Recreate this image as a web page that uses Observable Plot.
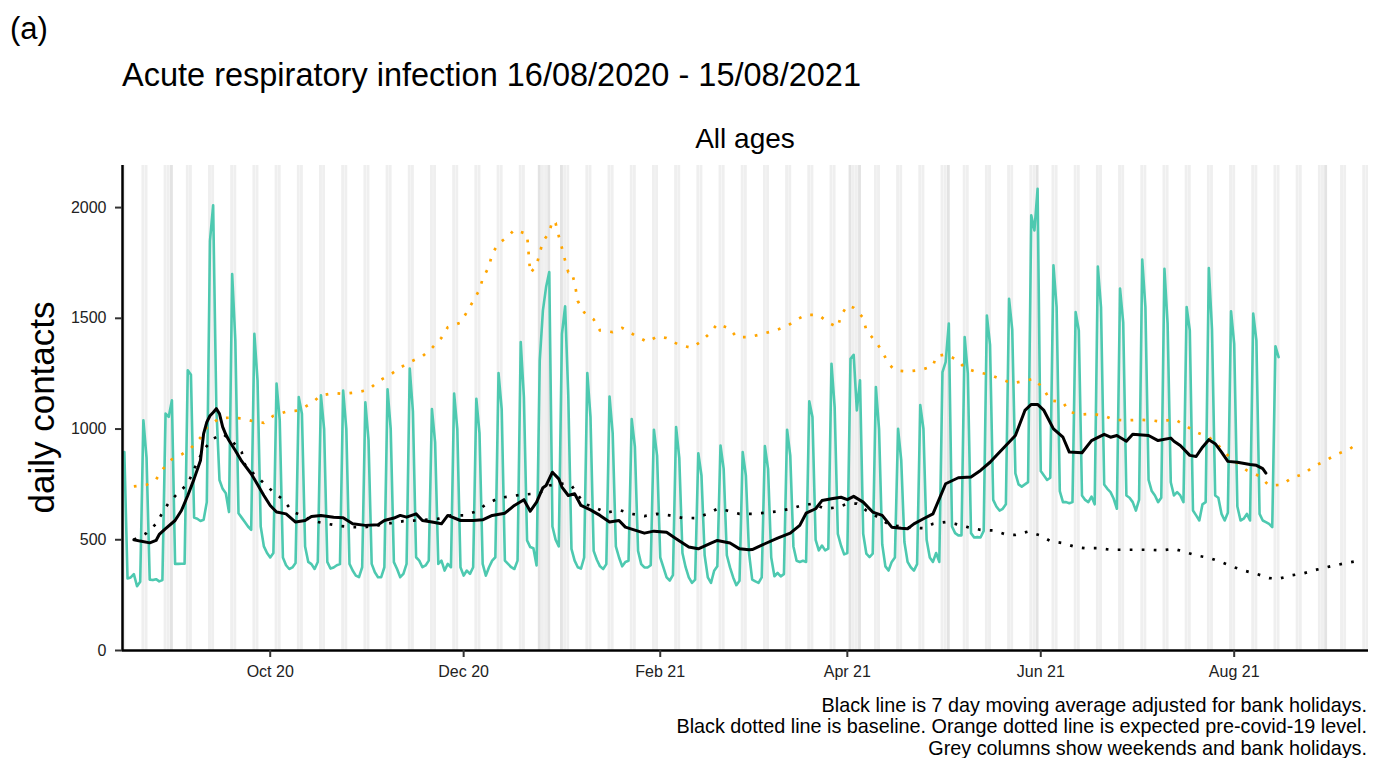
<!DOCTYPE html>
<html><head><meta charset="utf-8">
<script src="https://cdn.jsdelivr.net/npm/d3@7"></script>
<script src="https://cdn.jsdelivr.net/npm/@observablehq/plot@0.6"></script>
<style>
html,body{margin:0;padding:0;background:#fff;}
#wrap{position:relative;width:1379px;height:758px;overflow:hidden;font-family:"Liberation Sans",Arial,Helvetica,sans-serif;color:#000;}
.txt{position:absolute;white-space:nowrap;}
#chart{position:absolute;left:0;top:0;}
</style></head>
<body>
<div id="wrap">
  <div id="chart"></div>
  <div class="txt" style="left:10px;top:13px;font-size:31px;line-height:31px;">(a)</div>
  <div class="txt" style="left:122px;top:59px;font-size:32.5px;line-height:32.5px;">Acute respiratory infection 16/08/2020 - 15/08/2021</div>
  <div class="txt" style="left:545px;width:400px;text-align:center;top:125px;font-size:28px;line-height:28px;">All ages</div>
  <div class="txt" style="left:-159px;top:390px;width:400px;height:35px;text-align:center;font-size:35px;line-height:35px;transform:rotate(-90deg);">daily contacts</div>
  <div class="txt" style="left:0;width:1367px;text-align:right;top:694.6px;font-size:19.8px;line-height:21.6px;">Black line is 7 day moving average adjusted for bank holidays.<br>Black dotted line is baseline. Orange dotted line is expected pre-covid-19 level.<br>Grey columns show weekends and bank holidays.</div>
</div>
<script>
// ---- data ----
const startDate = "2020-08-16";
// daily contacts, one value per day from Sun 16 Aug 2020 (rows = weeks Mon..Sun)
const dailyContacts = [
  896,
  325, 330, 345, 290, 310, 1040, 870,
  320, 318, 322, 312, 318, 1070, 1055,
  1130, 391, 391, 392, 392, 1265, 1245,
  600, 595, 585, 590, 670, 1850, 2010,
  1100, 770, 730, 710, 625, 1700, 1400,
  620, 600, 580, 560, 545, 1430, 1220,
  560, 470, 440, 420, 440, 1205, 1040,
  420, 385, 368, 375, 395, 1144, 1069,
  470, 400, 390, 368, 400, 1152, 1000,
  400, 370, 375, 385, 390, 1174, 1000,
  391, 361, 338, 331, 376, 1121, 950,
  391, 353, 331, 331, 376, 1179, 1000,
  399, 368, 331, 346, 391, 1273, 1080,
  421, 406, 376, 384, 406, 1090, 940,
  391, 406, 361, 391, 376, 1160, 1000,
  376, 338, 361, 346, 376, 1137, 980,
  391, 338, 376, 406, 421, 1253, 1090,
  406, 391, 376, 368, 406, 1393, 1144,
  497, 467, 462, 384, 1310, 1536, 1641,
  1709, 560, 500, 470, 1430, 1554, 1150,
  459, 406, 376, 370, 420, 1253, 1054,
  450, 410, 380, 368, 390, 1147, 980,
  470, 420, 380, 400, 405, 1045, 920,
  450, 390, 375, 375, 385, 997, 880,
  420, 375, 330, 316, 340, 1009, 870,
  440, 376, 330, 305, 320, 891, 790,
  430, 330, 305, 360, 380, 926, 820,
  430, 375, 330, 295, 315, 896, 790,
  440, 320, 312, 305, 330, 923, 820,
  420, 335, 350, 335, 345, 997, 880,
  470, 405, 400, 405, 400, 1125, 1054,
  500, 452, 474, 452, 460, 1295, 1099,
  527, 474, 434, 440, 1317, 1335, 1084,
  1220, 527, 437, 422, 437, 1190, 1000,
  480, 380, 361, 400, 420, 1001, 858,
  490, 400, 376, 361, 390, 1108, 1000,
  500, 420, 400, 440, 400, 1257, 1302,
  1476, 560, 530, 520, 520, 1415, 1250,
  530, 510, 512, 510, 540, 1513, 1380,
  680, 650, 632, 640, 660, 1588, 1450,
  800, 750, 740, 750, 760, 1965, 1897,
  2085, 810, 790, 770, 780, 1739, 1550,
  720, 670, 670, 665, 670, 1528, 1445,
  700, 680, 670, 695, 660, 1734, 1550,
  750, 730, 715, 685, 640, 1634, 1480,
  700, 690, 670, 632, 680, 1765, 1550,
  770, 720, 700, 670, 690, 1724, 1475,
  760, 700, 715, 700, 670, 1551, 1445,
  632, 610, 587, 660, 670, 1727, 1450,
  700, 690, 617, 587, 622, 1532, 1385,
  650, 587, 595, 617, 587, 1521, 1400,
  617, 587, 580, 572, 557, 1374, 1325
];
const movingAverage = [
  ["2020-08-19",500],["2020-08-21",494],["2020-08-24",486],["2020-08-26",497],["2020-08-27",524],["2020-08-29",550],
  ["2020-09-01",587],["2020-09-03",632],["2020-09-05",700],["2020-09-07",775],["2020-09-09",858],["2020-09-10",979],
  ["2020-09-11",1031],["2020-09-12",1060],["2020-09-13",1075],["2020-09-14",1092],["2020-09-15",1069],["2020-09-16",1010],
  ["2020-09-17",975],["2020-09-18",948],["2020-09-20",903],["2020-09-22",855],["2020-09-25",798],["2020-09-27",750],
  ["2020-09-29",700],["2020-10-01",655],["2020-10-03",625],["2020-10-06",617],["2020-10-09",580],["2020-10-12",587],
  ["2020-10-14",605],["2020-10-17",610],["2020-10-21",602],["2020-10-24",599],["2020-10-27",572],["2020-10-31",565],
  ["2020-11-04",568],["2020-11-06",587],["2020-11-09",598],["2020-11-11",610],["2020-11-13",602],["2020-11-16",617],
  ["2020-11-18",587],["2020-11-21",580],["2020-11-24",572],["2020-11-26",610],["2020-11-30",587],["2020-12-04",587],
  ["2020-12-07",590],["2020-12-10",610],["2020-12-14",620],["2020-12-17",655],["2020-12-20",681],["2020-12-22",629],
  ["2020-12-24",670],["2020-12-26",735],["2020-12-27",745],["2020-12-29",805],["2020-12-31",775],["2021-01-01",738],
  ["2021-01-03",700],["2021-01-05",708],["2021-01-07",655],["2021-01-10",635],["2021-01-13",610],["2021-01-16",580],
  ["2021-01-19",587],["2021-01-21",557],["2021-01-27",530],["2021-01-30",539],["2021-02-03",534],["2021-02-06",505],
  ["2021-02-10",467],["2021-02-13",459],["2021-02-17",485],["2021-02-19",497],["2021-02-23",485],["2021-02-26",459],
  ["2021-03-01",455],["2021-03-02",456],["2021-03-06",482],["2021-03-10",507],["2021-03-14",530],["2021-03-17",565],
  ["2021-03-19",620],["2021-03-22",640],["2021-03-24",677],["2021-03-27",685],["2021-03-30",692],["2021-04-01",681],
  ["2021-04-03",696],["2021-04-06",670],["2021-04-09",625],["2021-04-12",610],["2021-04-15",557],["2021-04-18",552],
  ["2021-04-20",550],["2021-04-22",572],["2021-04-25",595],["2021-04-28",617],["2021-04-30",685],["2021-05-02",753],
  ["2021-05-06",780],["2021-05-10",783],["2021-05-13",813],["2021-05-16",850],["2021-05-18",881],["2021-05-21",926],
  ["2021-05-24",971],["2021-05-27",1084],["2021-05-29",1111],["2021-05-31",1111],["2021-06-02",1084],["2021-06-05",1001],
  ["2021-06-08",963],["2021-06-10",896],["2021-06-14",893],["2021-06-17",948],["2021-06-21",976],["2021-06-23",963],
  ["2021-06-25",971],["2021-06-28",945],["2021-06-30",976],["2021-07-05",971],["2021-07-08",948],["2021-07-12",959],
  ["2021-07-13",945],["2021-07-15",926],["2021-07-18",881],["2021-07-20",876],["2021-07-22",918],["2021-07-24",952],
  ["2021-07-26",934],["2021-07-28",896],["2021-07-30",854],["2021-08-02",850],["2021-08-06",840],["2021-08-08",836],
  ["2021-08-10",821],["2021-08-11",801]
];
const baseline = [
  ["2020-08-19",500],["2020-08-23",530],["2020-08-26",572],["2020-08-28",622],["2020-08-30",667],["2020-09-02",712],
  ["2020-09-05",753],["2020-09-08",851],["2020-09-10",906],["2020-09-13",956],["2020-09-16",979],["2020-09-19",945],
  ["2020-09-22",896],["2020-09-23",840],["2020-09-26",795],["2020-09-29",756],["2020-10-02",715],["2020-10-05",682],
  ["2020-10-08",628],["2020-10-12",602],["2020-10-15",583],["2020-10-19",572],["2020-10-23",562],["2020-10-27",557],
  ["2020-10-31",557],["2020-11-04",565],["2020-11-08",575],["2020-11-12",584],["2020-11-16",587],["2020-11-23",595],
  ["2020-11-27",610],["2020-12-01",610],["2020-12-05",628],["2020-12-08",659],["2020-12-12",688],["2020-12-16",697],
  ["2020-12-19",703],["2020-12-25",710],["2020-12-28",745],["2021-01-02",755],["2021-01-04",745],["2021-01-08",663],
  ["2021-01-12",642],["2021-01-15",622],["2021-01-19",635],["2021-01-23",617],["2021-01-27",607],["2021-01-31",617],
  ["2021-02-04",610],["2021-02-08",599],["2021-02-12",598],["2021-02-16",617],["2021-02-19",640],["2021-02-22",632],
  ["2021-02-26",617],["2021-03-02",617],["2021-03-06",622],["2021-03-10",628],["2021-03-14",640],["2021-03-17",652],
  ["2021-03-21",663],["2021-03-25",640],["2021-03-29",647],["2021-04-01",663],["2021-04-04",663],["2021-04-07",632],
  ["2021-04-11",599],["2021-04-14",569],["2021-04-19",557],["2021-04-25",552],["2021-04-28",572],["2021-05-02",580],
  ["2021-05-05",572],["2021-05-09",557],["2021-05-13",545],["2021-05-17",542],["2021-05-21",524],["2021-05-24",522],
  ["2021-05-28",537],["2021-06-01",519],["2021-06-04",494],["2021-06-08",485],["2021-06-12",467],["2021-06-15",462],
  ["2021-06-19",462],["2021-06-23",455],["2021-06-27",455],["2021-07-01",455],["2021-07-05",455],["2021-07-09",452],
  ["2021-07-13",459],["2021-07-16",447],["2021-07-20",429],["2021-07-24",419],["2021-07-28",399],["2021-08-01",376],
  ["2021-08-04",361],["2021-08-08",346],["2021-08-12",327],["2021-08-15",324],["2021-08-19",339],["2021-08-23",349],
  ["2021-08-27",365],["2021-08-31",379],["2021-09-04",391],["2021-09-08",402]
];
const expectedLevel = [
  ["2020-08-19",741],["2020-08-23",748],["2020-08-26",772],["2020-08-28",817],["2020-08-31",864],["2020-09-03",884],
  ["2020-09-06",914],["2020-09-09",961],["2020-09-11",1007],["2020-09-15",1049],["2020-09-18",1051],["2020-09-22",1048],
  ["2020-09-26",1034],["2020-09-29",1028],["2020-10-02",1060],["2020-10-06",1078],["2020-10-10",1084],["2020-10-14",1117],
  ["2020-10-17",1152],["2020-10-21",1162],["2020-10-24",1159],["2020-10-28",1165],["2020-11-01",1177],["2020-11-04",1215],
  ["2020-11-08",1247],["2020-11-11",1277],["2020-11-14",1302],["2020-11-18",1329],["2020-11-21",1366],["2020-11-24",1412],
  ["2020-11-26",1460],["2020-11-30",1480],["2020-12-02",1528],["2020-12-04",1578],["2020-12-06",1629],["2020-12-07",1679],
  ["2020-12-09",1734],["2020-12-10",1792],["2020-12-12",1837],["2020-12-15",1870],["2020-12-17",1900],["2020-12-21",1880],
  ["2020-12-22",1704],["2020-12-24",1739],["2020-12-25",1796],["2020-12-26",1847],["2020-12-28",1887],["2020-12-29",1942],
  ["2020-12-30",1930],["2020-12-31",1871],["2021-01-01",1817],["2021-01-02",1761],["2021-01-03",1709],["2021-01-04",1712],
  ["2021-01-05",1660],["2021-01-06",1578],["2021-01-08",1527],["2021-01-11",1495],["2021-01-13",1445],["2021-01-17",1438],
  ["2021-01-20",1457],["2021-01-24",1423],["2021-01-28",1393],["2021-01-31",1418],["2021-02-03",1411],["2021-02-07",1379],
  ["2021-02-11",1367],["2021-02-14",1397],["2021-02-17",1438],["2021-02-19",1475],["2021-02-23",1453],["2021-02-25",1415],
  ["2021-03-01",1415],["2021-03-05",1429],["2021-03-09",1444],["2021-03-13",1465],["2021-03-16",1494],["2021-03-19",1516],
  ["2021-03-23",1515],["2021-03-26",1480],["2021-03-29",1460],["2021-03-30",1513],["2021-04-01",1558],["2021-04-03",1548],
  ["2021-04-04",1536],["2021-04-06",1501],["2021-04-07",1445],["2021-04-10",1394],["2021-04-12",1350],["2021-04-14",1295],
  ["2021-04-16",1265],["2021-04-20",1260],["2021-04-24",1266],["2021-04-28",1284],["2021-04-29",1329],["2021-05-02",1337],
  ["2021-05-06",1310],["2021-05-08",1275],["2021-05-12",1257],["2021-05-16",1245],["2021-05-19",1227],["2021-05-23",1207],
  ["2021-05-26",1215],["2021-05-30",1227],["2021-06-02",1179],["2021-06-04",1129],["2021-06-08",1122],["2021-06-10",1077],
  ["2021-06-14",1066],["2021-06-17",1069],["2021-06-21",1060],["2021-06-24",1042],["2021-06-28",1039],["2021-07-02",1042],
  ["2021-07-06",1039],["2021-07-09",1033],["2021-07-13",1046],["2021-07-16",1021],["2021-07-20",986],["2021-07-24",963],
  ["2021-07-27",926],["2021-07-30",881],["2021-08-02",846],["2021-08-05",813],["2021-08-09",787],["2021-08-12",745],
  ["2021-08-16",748],["2021-08-19",778],["2021-08-23",798],["2021-08-26",831],["2021-08-30",858],["2021-09-02",884],
  ["2021-09-06",906],["2021-09-09",936]
];
const bankHolidays = ["2020-08-31","2020-12-25","2020-12-28","2021-01-01","2021-04-02","2021-04-05","2021-05-03","2021-05-31","2021-08-30"];
const xTickDates = ["2020-10-01","2020-12-01","2021-02-01","2021-04-01","2021-06-01","2021-08-01"];
const xTickLabels = ["Oct 20","Dec 20","Feb 21","Apr 21","Jun 21","Aug 21"];
const yTicks = [0, 500, 1000, 1500, 2000];
const xDomain = ["2020-08-15T10:00:00Z", "2021-09-12T08:30:00Z"];
const yDomain = [0, 2190];

// ---- build ----
const parse = s => new Date(s.length === 10 ? s + "T00:00:00Z" : s);
const t0 = parse(startDate);
const teal = dailyContacts.map((v, i) => ({date: d3.utcDay.offset(t0, i), value: v}));
const toObj = arr => arr.map(([d, v]) => ({date: parse(d), value: v}));
const dx0 = parse(xDomain[0]), dx1 = parse(xDomain[1]);
const weekendDays = d3.utcDay.range(d3.utcDay.floor(dx0), d3.utcDay.offset(dx1, 1))
  .filter(d => d.getUTCDay() === 0 || d.getUTCDay() === 6);
const holidays = bankHolidays.map(parse);
const half = 0.45 * 864e5;
const dayRect = {
  x1: d => new Date(+d - half), x2: d => new Date(+d + half),
  y1: () => yDomain[0], y2: () => yDomain[1], clip: true
};
const dotted = {x: "date", y: "value", strokeWidth: 2.7, strokeDasharray: "2.7 9.3", strokeLinecap: "butt"};

const chart = Plot.plot({
  width: 1379, height: 700,
  marginLeft: 122, marginRight: 11, marginTop: 165, marginBottom: 50,
  style: {fontFamily: '"Liberation Sans", Arial, sans-serif', fontSize: "16px", background: "transparent", color: "#333"},
  x: {type: "utc", domain: [dx0, dx1]},
  y: {domain: yDomain},
  marks: [
    Plot.rect(weekendDays, {...dayRect, fill: "#efefef"}),
    Plot.rect(holidays, {...dayRect, fill: "#e3e3e3"}),
    Plot.line(teal, {x: "date", y: "value", stroke: "#4ec9b0", strokeWidth: 2.6, strokeLinejoin: "round"}),
    Plot.line(toObj(baseline), {...dotted, stroke: "#000"}),
    Plot.line(toObj(expectedLevel), {...dotted, stroke: "#ffa500"}),
    Plot.line(toObj(movingAverage), {x: "date", y: "value", stroke: "#000", strokeWidth: 3, strokeLinejoin: "round"}),
    Plot.ruleY([0], {stroke: "#000", strokeWidth: 2.5}),
    Plot.ruleX([dx0], {stroke: "#000", strokeWidth: 2.5}),
    Plot.axisY({ticks: yTicks, tickFormat: d => String(d), tickSize: 7, tickPadding: 9, label: null, fontSize: 16, stroke: "#333", strokeWidth: 2, fill: "#222"}),
    Plot.axisX({ticks: xTickDates.map(parse), tickFormat: d => xTickLabels[xTickDates.indexOf(d.toISOString().slice(0, 10))],
      tickSize: 7, tickPadding: 8, label: null, fontSize: 16, stroke: "#333", strokeWidth: 2, fill: "#222"})
  ]
});
document.getElementById("chart").appendChild(chart);
</script>
</body></html>
